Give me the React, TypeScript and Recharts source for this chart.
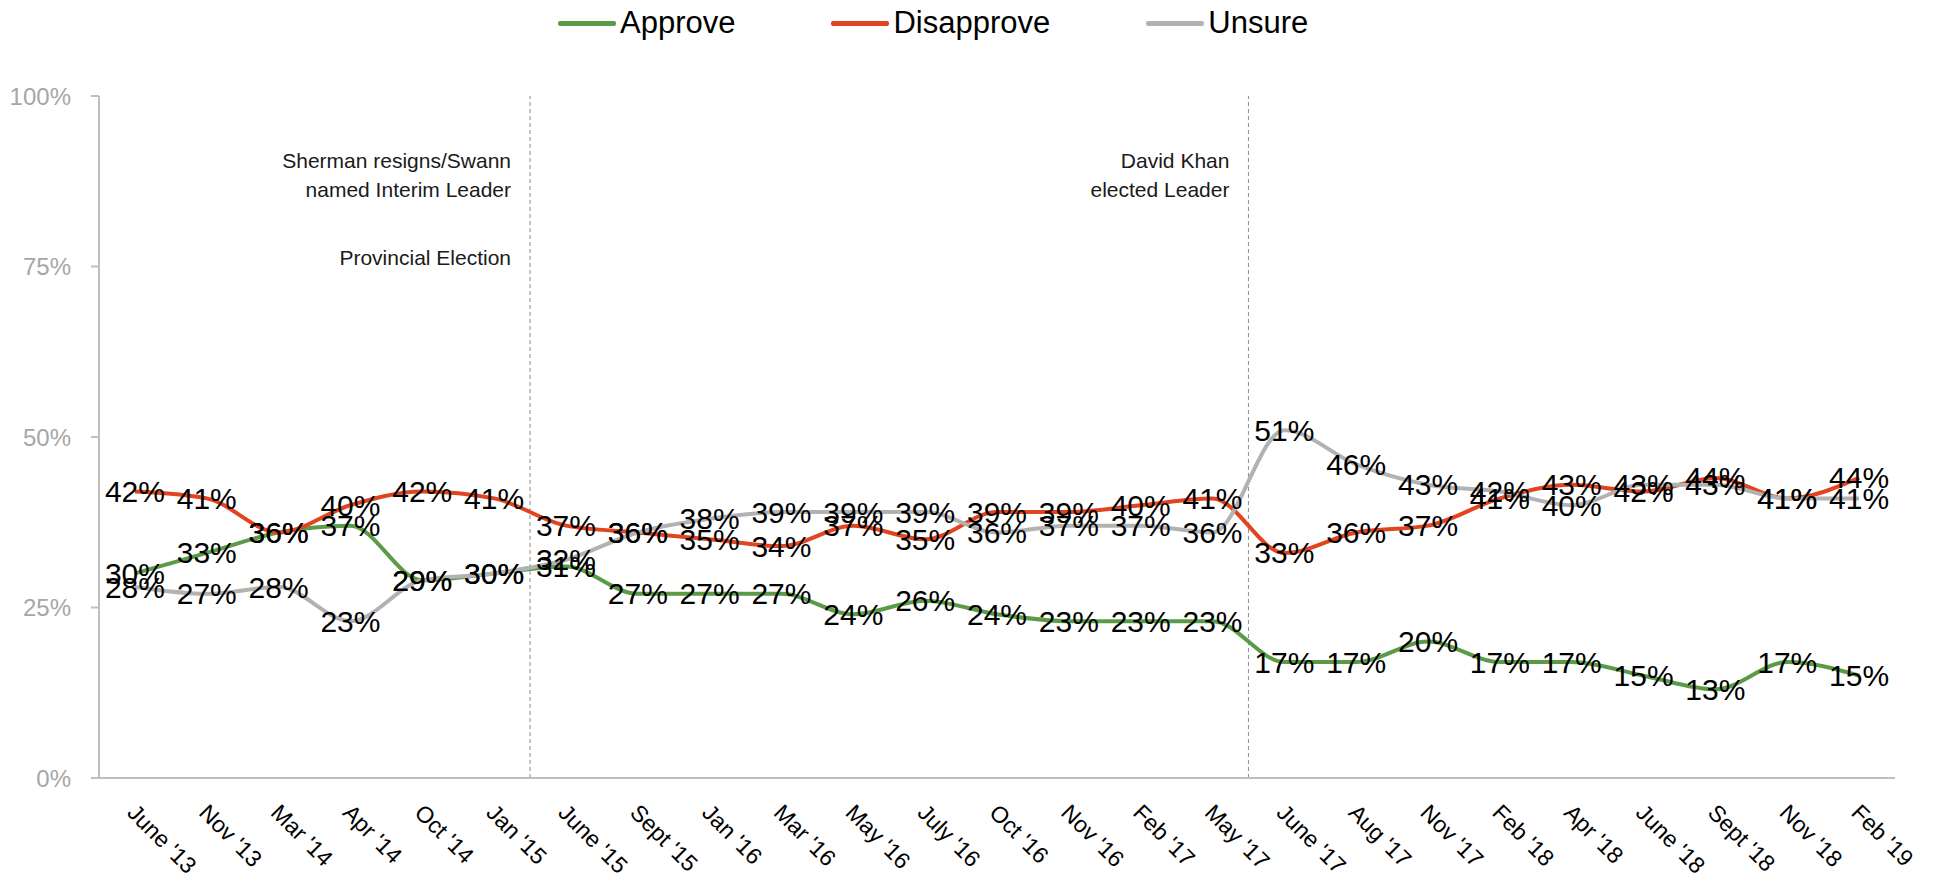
import React from "react";
import { LineChart, Line, XAxis, YAxis, ReferenceLine } from "recharts";

const categories = [
  "June '13", "Nov '13", "Mar '14", "Apr '14", "Oct '14", "Jan '15", "June '15", "Sept '15",
  "Jan '16", "Mar '16", "May '16", "July '16", "Oct '16", "Nov '16", "Feb '17", "May '17",
  "June '17", "Aug '17", "Nov '17", "Feb '18", "Apr '18", "June '18", "Sept '18", "Nov '18", "Feb '19",
];
const approve = [30, 33, 36, 37, 29, 30, 31, 27, 27, 27, 24, 26, 24, 23, 23, 23, 17, 17, 20, 17, 17, 15, 13, 17, 15];
const disapprove = [42, 41, 36, 40, 42, 41, 37, 36, 35, 34, 37, 35, 39, 39, 40, 41, 33, 36, 37, 41, 43, 42, 44, 41, 44];
const unsure = [28, 27, 28, 23, 29, 30, 32, 36, 38, 39, 39, 39, 36, 37, 37, 36, 51, 46, 43, 42, 40, 43, 43, 41, 41];
const yTicks = [0, 25, 50, 75, 100];

// events sit between two survey waves
const eventAfter = [6, 16];
const eventNotes = [
  ["Sherman resigns/Swann", "named Interim Leader", "", "Provincial Election"],
  ["David Khan", "elected Leader"],
];

const series = [
  { key: "approve", name: "Approve", color: "#5B9B48" },
  { key: "disapprove", name: "Disapprove", color: "#E2441F" },
  { key: "unsure", name: "Unsure", color: "#B2B2B2" },
];

const data = categories.map((label, i) => ({
  pos: i + 0.5,
  label,
  approve: approve[i],
  disapprove: disapprove[i],
  unsure: unsure[i],
}));

const FONT = "'Liberation Sans', Arial, sans-serif";

function XTick(props: any) {
  const { x, y, payload } = props;
  const label = categories[Math.floor(payload.value)];
  return (
    <g transform={`translate(${x - 9},${y + 36}) rotate(45)`}>
      <text x={0} y={0} textAnchor="start" fontSize={23} fontFamily={FONT} fill="#000">
        {label}
      </text>
    </g>
  );
}

function PointLabel(props: any) {
  const { x, y, value } = props;
  if (value == null) return null;
  return (
    <text
      x={x}
      y={y}
      textAnchor="middle"
      dominantBaseline="central"
      fontSize={30}
      fontFamily={FONT}
      fill="#000"
    >
      {value}%
    </text>
  );
}

function EventNote({ viewBox, lines }: any) {
  if (!viewBox) return null;
  const right = viewBox.x - 19;
  return (
    <text x={right} y={viewBox.y + 72} textAnchor="end" fontSize={21} fontFamily={FONT} fill="#1a1a1a">
      {lines.map((t: string, i: number) => (
        <tspan key={i} x={right} dy={i === 0 ? 0 : lines[i - 1] === "" ? 39 : 29}>
          {t === "" ? "\u00a0" : t}
        </tspan>
      ))}
    </text>
  );
}

function LegendBox() {
  return (
    <div
      style={{
        position: "absolute",
        top: 0,
        left: 550,
        display: "flex",
        alignItems: "center",
        fontFamily: FONT,
        fontSize: 31,
        lineHeight: "30px",
      }}
    >
      {series.map((s) => (
        <div key={s.key} style={{ display: "flex", alignItems: "center", marginRight: 96 }}>
          <span
            style={{
              display: "inline-block",
              width: 58,
              height: 5,
              borderRadius: 2,
              background: s.color,
              marginRight: 4,
            }}
          />
          <span style={{ color: "#000" }}>{s.name}</span>
        </div>
      ))}
    </div>
  );
}

export default function App() {
  return (
    <div style={{ position: "relative", width: 1930, height: 869, fontFamily: FONT }}>
      <LegendBox />
      <LineChart
        width={1930}
        height={869}
        data={data}
        margin={{ top: 88, right: 43, bottom: 0, left: 0 }}
      >
        <XAxis
          type="number"
          dataKey="pos"
          domain={[0, categories.length]}
          ticks={data.map((d) => d.pos)}
          interval={0}
          height={99}
          tickLine={false}
          tickSize={0}
          tickMargin={0}
          axisLine={{ stroke: "#BFBFBF", strokeWidth: 2 }}
          tick={<XTick />}
        />
        <YAxis
          type="number"
          domain={[0, 100]}
          ticks={yTicks}
          width={91}
          tickSize={8}
          tickMargin={20}
          tickFormatter={(v) => `${v}%`}
          axisLine={{ stroke: "#BFBFBF", strokeWidth: 2 }}
          tickLine={{ stroke: "#BFBFBF", strokeWidth: 2 }}
          tick={{ fill: "#A6A6A6", fontSize: 24, fontFamily: FONT }}
        />
        {eventAfter.map((at, i) => (
          <ReferenceLine
            key={at}
            x={at}
            stroke="#8C8C8C"
            strokeWidth={1}
            strokeDasharray="4 3"
            label={(p: any) => <EventNote viewBox={p.viewBox} lines={eventNotes[i]} />}
          />
        ))}
        {series.map((s) => (
          <Line
            key={s.key}
            type="monotone"
            dataKey={s.key}
            name={s.name}
            stroke={s.color}
            strokeWidth={4}
            dot={false}
            activeDot={false}
            isAnimationActive={false}
          />
        ))}
        {series.map((s) => (
          <Line
            key={`${s.key}-labels`}
            type="monotone"
            dataKey={s.key}
            stroke="none"
            dot={false}
            activeDot={false}
            legendType="none"
            isAnimationActive={false}
            label={<PointLabel />}
          />
        ))}
      </LineChart>
    </div>
  );
}
